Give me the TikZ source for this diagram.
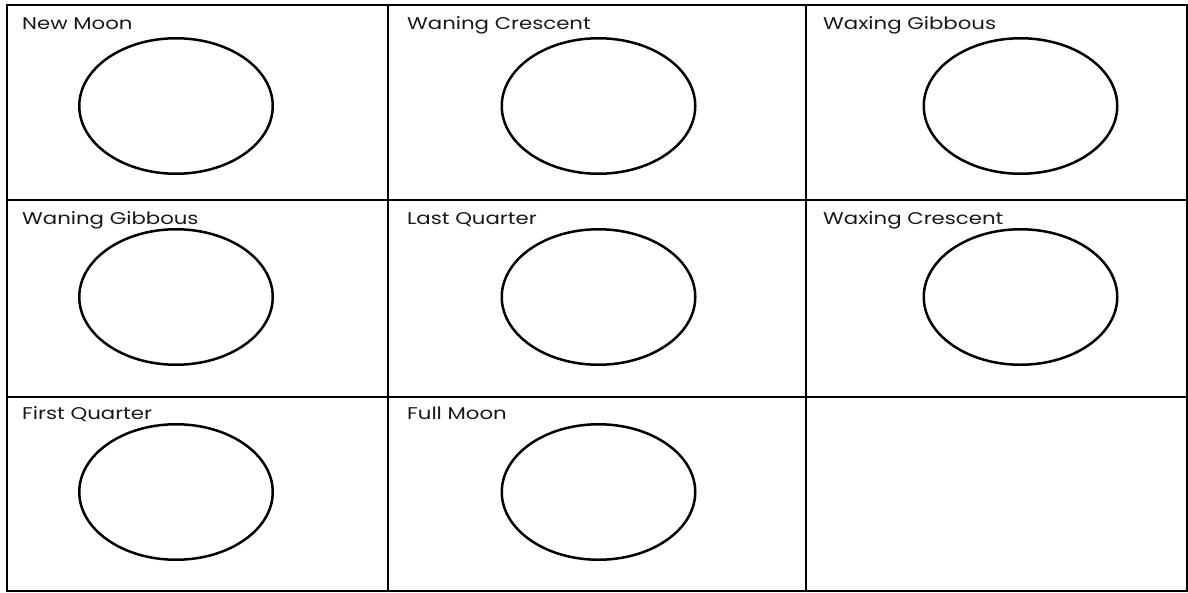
\documentclass[tikz,border=0pt]{standalone}
\usepackage{fontspec}
\setmainfont{Poppins}[FakeStretch=1.25]
\usetikzlibrary{shapes.geometric}
\begin{document}
\begin{tikzpicture}[x=1pt,y=-1pt,
  grid/.style={line width=2.5pt,black},
  moon/.style={ellipse,draw,line width=2.5pt,minimum width=193.5pt,minimum height=135.5pt,inner sep=0pt},
  lbl/.style={anchor=base west,inner sep=0pt,font=\fontsize{17pt}{19pt}\selectfont,text=black!90}]
\useasboundingbox (0,0) rectangle (1188,592);
\fill[white] (0,0) rectangle (1188,592);
% grid
\coordinate (tl) at (7,5);
\coordinate (br) at (1187,591);
\draw[grid] (tl) rectangle (br);
\coordinate (v1t) at (388,5); \coordinate (v1b) at (388,591);
\coordinate (v2t) at (806,5); \coordinate (v2b) at (806,591);
\coordinate (h1l) at (7,200); \coordinate (h1r) at (1187,200);
\coordinate (h2l) at (7,397); \coordinate (h2r) at (1187,397);
\draw[grid] (v1t) -- (v1b);
\draw[grid] (v2t) -- (v2b);
\draw[grid] (h1l) -- (h1r);
\draw[grid] (h2l) -- (h2r);
% row 1
\node[lbl] (l11) at (22,29) {New Moon};
\node[lbl] (l12) at (407,29) {Waning Crescent};
\node[lbl] (l13) at (823,29) {Waxing Gibbous};
\node[moon] (m11) at (176,106) {};
\node[moon] (m12) at (598.5,106) {};
\node[moon] (m13) at (1020.5,106) {};
% row 2
\node[lbl] (l21) at (22,224) {Waning Gibbous};
\node[lbl] (l22) at (407,224) {Last Quarter};
\node[lbl] (l23) at (823,224) {Waxing Crescent};
\node[moon] (m21) at (176,297) {};
\node[moon] (m22) at (598.5,297) {};
\node[moon] (m23) at (1020.5,297) {};
% row 3
\node[lbl] (l31) at (22,419) {First Quarter};
\node[lbl] (l32) at (407,419) {Full Moon};
\node[moon] (m31) at (176,492) {};
\node[moon] (m32) at (598.5,492) {};
\end{tikzpicture}
\end{document}
